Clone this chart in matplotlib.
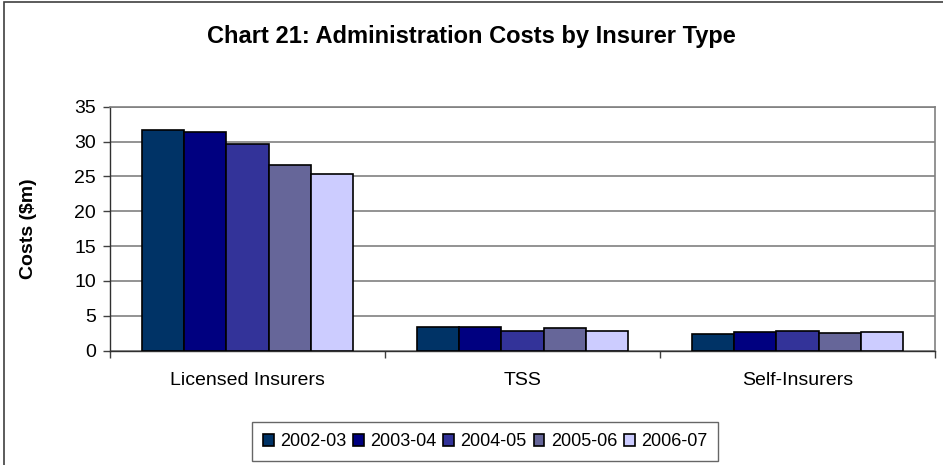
import matplotlib.pyplot as plt
from matplotlib.patches import Rectangle
import numpy as np

plt.rcParams['font.family'] = ['Liberation Sans', 'DejaVu Sans']

categories = ["Licensed Insurers", "TSS", "Self-Insurers"]
years = ["2002-03", "2003-04", "2004-05", "2005-06", "2006-07"]
costs = {
    "2002-03": [31.6, 3.4, 2.4],
    "2003-04": [31.3, 3.45, 2.65],
    "2004-05": [29.7, 2.85, 2.85],
    "2005-06": [26.7, 3.2, 2.6],
    "2006-07": [25.4, 2.8, 2.65],
}
colors = ["#003366", "#000080", "#333399", "#666699", "#CCCCFF"]

fig = plt.figure(figsize=(9.43, 4.65), dpi=100)
# outer chart frame
fig.patches.append(Rectangle((4 / 943, -0.1), 1.2, 1.1 - 2.5 / 465, transform=fig.transFigure,
                             fill=False, edgecolor="#404040", linewidth=1.2))

ax = fig.add_axes([110 / 943, 1 - 350.7 / 465, 825 / 943, 244 / 465])

x = np.arange(len(categories))
bw = 0.767 / len(years)
for i, y in enumerate(years):
    ax.bar(x + (i - 2) * bw, costs[y], width=bw, color=colors[i], edgecolor="black",
           linewidth=1.2, label=y, zorder=3)

ax.set_xlim(-0.5, 2.5)
ax.set_ylim(0, 35)
ax.set_yticks(range(0, 36, 5))
ax.yaxis.grid(True, color="#808080", linewidth=1.2, zorder=0)
ax.set_xticks(x)
ax.set_xticklabels(categories, fontsize=14)
ax.tick_params(axis="x", length=0, pad=15)
ax.set_xticks([-0.5, 0.5, 1.5, 2.5], minor=True)
ax.tick_params(axis="x", which="minor", length=5, width=1, color="#404040")
ax.tick_params(axis="y", length=5, width=1, labelsize=14, pad=5, color="#404040")
for s in ["top", "right"]:
    ax.spines[s].set_color("#808080")
    ax.spines[s].set_linewidth(1.2)
for s in ["left", "bottom"]:
    ax.spines[s].set_color("#303030")
    ax.spines[s].set_linewidth(1)
ax.set_ylabel("Costs ($m)", fontsize=14, fontweight="bold", labelpad=27)

fig.text(0.5, 1 - 36 / 465, "Chart 21: Administration Costs by Insurer Type",
         ha="center", va="center", fontsize=17, fontweight="bold")

leg = fig.legend(loc="center", bbox_to_anchor=(485 / 943, 1 - 441.7 / 465), ncol=5,
                 fontsize=13, frameon=True, fancybox=False, edgecolor="#404040",
                 handlelength=0.6, handleheight=0.6, handletextpad=0.35, columnspacing=0.38,
                 borderpad=0.6, borderaxespad=0)
leg.get_frame().set_linewidth(1)

fig.savefig("out.png", dpi=100)
